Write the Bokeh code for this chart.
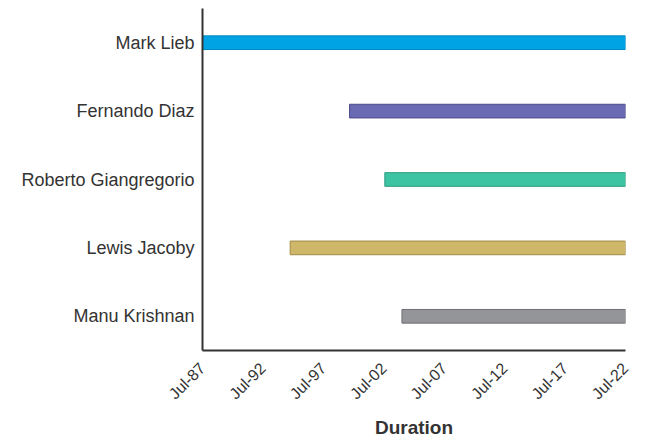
from datetime import datetime
from bokeh.plotting import figure
from bokeh.models import ColumnDataSource, FactorRange, Range1d, FixedTicker, DatetimeTickFormatter
from bokeh.embed import file_html
from bokeh.resources import INLINE
import math

names = ["Mark Lieb", "Fernando Diaz", "Roberto Giangregorio", "Lewis Jacoby", "Manu Krishnan"]
starts = ["1987-07-01", "1999-09-01", "2002-08-01", "1994-10-01", "2004-01-01"]
ends = ["2022-07-01", "2022-07-01", "2022-07-01", "2022-07-01", "2022-07-01"]
colors = ["#00A3E4", "#6A6AB2", "#3DC4A2", "#CEB768", "#939599"]
edge_colors = ["#0088C0", "#4A4A8C", "#2E9C80", "#A08C48", "#6E6F72"]
tick_years = [1987, 1992, 1997, 2002, 2007, 2012, 2017, 2022]

def to_dt(s):
    return datetime.strptime(s, "%Y-%m-%d")

src = ColumnDataSource(dict(
    name=names,
    start=[to_dt(s) for s in starts],
    end=[to_dt(s) for s in ends],
    color=colors,
    edge=edge_colors,
))

p = figure(width=645, height=441, output_backend="svg", toolbar_location=None,
           x_axis_type="datetime",
           y_range=FactorRange(*list(reversed(names)), range_padding=0),
           x_range=Range1d(to_dt("1987-07-01"), to_dt("2022-07-01")))
p.min_border_left = 202
p.min_border_right = 20
p.min_border_top = 8
p.min_border_bottom = 0

p.hbar(y="name", left="start", right="end", height=0.2, source=src,
       fill_color="color", line_color="edge", line_width=1)

p.xgrid.visible = False
p.ygrid.visible = False
p.outline_line_color = None

epoch = datetime(1970, 1, 1)
ticks = [(datetime(y, 7, 1) - epoch).total_seconds() * 1000 for y in tick_years]
p.xaxis.ticker = FixedTicker(ticks=ticks)
fmt = "%b-%y"
p.xaxis.formatter = DatetimeTickFormatter(
    milliseconds=fmt, seconds=fmt, minsec=fmt, minutes=fmt, hourmin=fmt, hours=fmt,
    days=fmt, months=fmt, years=fmt)
p.xaxis.major_label_orientation = math.pi / 4
p.xaxis.axis_label = "Duration"
p.xaxis.axis_label_text_font = "Liberation Sans"
p.xaxis.axis_label_text_font_style = "bold"
p.xaxis.axis_label_text_font_size = "19px"
p.xaxis.axis_label_text_color = "#333333"
p.xaxis.axis_label_standoff = 6

for ax in (p.xaxis, p.yaxis):
    ax.axis_line_color = "#333333"
    ax.axis_line_width = 2
    ax.major_tick_line_color = None
    ax.minor_tick_line_color = None
    ax.major_label_text_font = "Liberation Sans"
    ax.major_label_text_color = "#333333"

p.xaxis.major_label_text_font_size = "16px"
p.xaxis.major_label_standoff = 9
p.yaxis.major_label_text_font_size = "18px"
p.yaxis.major_label_standoff = 2

open("out.html", "w").write(file_html(p, INLINE))
